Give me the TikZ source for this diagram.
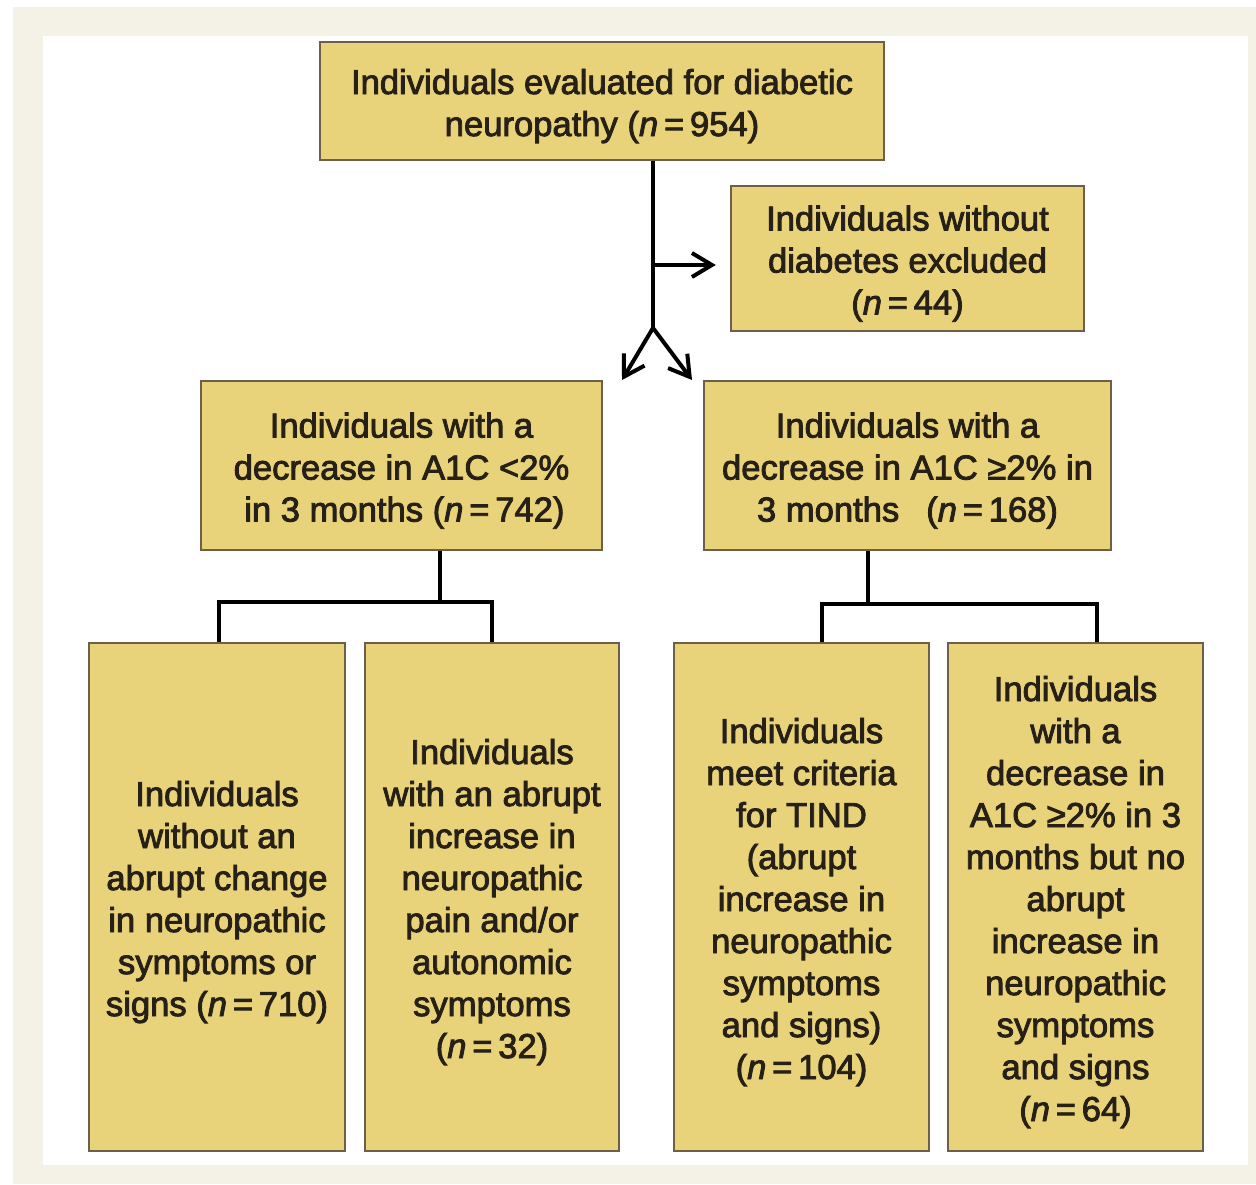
\documentclass[tikz,border=0pt]{standalone}
\usepackage{fontspec}
\setmainfont{Liberation Sans}[BoldFont={Liberation Sans},BoldFeatures={FakeBold=2.5},BoldItalicFont={Liberation Sans Italic},BoldItalicFeatures={FakeBold=2.5}]
\usetikzlibrary{arrows.meta}
\definecolor{boxfill}{RGB}{232,210,122}
\definecolor{boxline}{RGB}{110,96,72}
\definecolor{txt}{RGB}{38,32,22}
\definecolor{frame}{RGB}{244,241,230}
\newcommand{\nn}[1]{(\textit{n}\,=\,#1)}
\newcommand{\ts}{\rule{0pt}{17.6pt}}
\begin{document}
\begin{tikzpicture}[x=0.5pt,y=-0.5pt,
  box/.style={draw=boxline,line width=1.2pt,fill=boxfill,align=center,inner sep=0pt,
    text=txt,font=\fontsize{17.3}{21}\selectfont\bfseries},
  conn/.style={line width=2pt,draw=black},
  arr/.style={conn,-{Straight Barb[length=10pt,width=12pt]}}]
\useasboundingbox (0,0) rectangle (1256,1184);
\fill[white] (0,0) rectangle (1256,1184);
\fill[frame] (13,7) rectangle (1256,1184);
\fill[white] (43,36) rectangle (1248,1165);

\node[box,minimum width=282pt,minimum height=59pt] (top) at (602,101)
  {\ts Individuals evaluated for diabetic\\neuropathy \nn{954}};
\node[box,minimum width=176.5pt,minimum height=72.5pt] (excl) at (907.5,258.5)
  {\ts Individuals without\\diabetes excluded\\\nn{44}};
\node[box,minimum width=200.5pt,minimum height=84.5pt] (midL) at (401.5,465.5)
  {\ts Individuals with a\\decrease in A1C <2\%\\ \,in 3 months \nn{742}};
\node[box,minimum width=203.5pt,minimum height=84.5pt] (midR) at (907.5,465.5)
  {\ts Individuals with a\\decrease in A1C ≥2\% in\\3 months \enspace\nn{168}};
\node[box,minimum width=128pt,minimum height=254pt] (b1) at (217,897)
  {\ts Individuals\\without an\\abrupt change\\in neuropathic\\symptoms or\\signs \nn{710}};
\node[box,minimum width=127pt,minimum height=254pt] (b2) at (492,897)
  {\ts Individuals\\with an abrupt\\increase in\\neuropathic\\pain and/or\\autonomic\\symptoms\\\nn{32}};
\node[box,minimum width=127.5pt,minimum height=254pt] (b3) at (801.5,897)
  {\ts Individuals\\meet criteria\\for TIND\\(abrupt\\increase in\\neuropathic\\symptoms\\and signs)\\\nn{104}};
\node[box,minimum width=127.5pt,minimum height=254pt] (b4) at (1075.5,897)
  {\ts Individuals\\with a\\decrease in\\A1C ≥2\% in 3\\months but no\\abrupt\\increase in\\neuropathic\\symptoms\\and signs\\\nn{64}};

\coordinate (split) at (653,328);
\coordinate (branch) at (653,265);
\coordinate (tipL) at (622,380);
\coordinate (tipR) at (692,380);
\draw[conn] (top.south -| split) -- (split);
\draw[arr,shorten >=7pt] (branch) -- (excl.west |- branch);
\draw[arr] (split) -- (tipL);
\draw[arr] (split) -- (tipR);

\coordinate (jL) at (440,602);
\draw[conn] (midL.south -| jL) -- (jL);
\draw[conn] ([xshift=1pt]b1.north) |- (b2.north |- jL) -- (b2.north);

\coordinate (jR) at (868,604);
\draw[conn] (midR.south -| jR) -- (jR);
\draw[conn] ([xshift=10.25pt]b3.north) |- ([xshift=10.75pt]b4.north |- jR) -- ([xshift=10.75pt]b4.north);
\end{tikzpicture}
\end{document}
